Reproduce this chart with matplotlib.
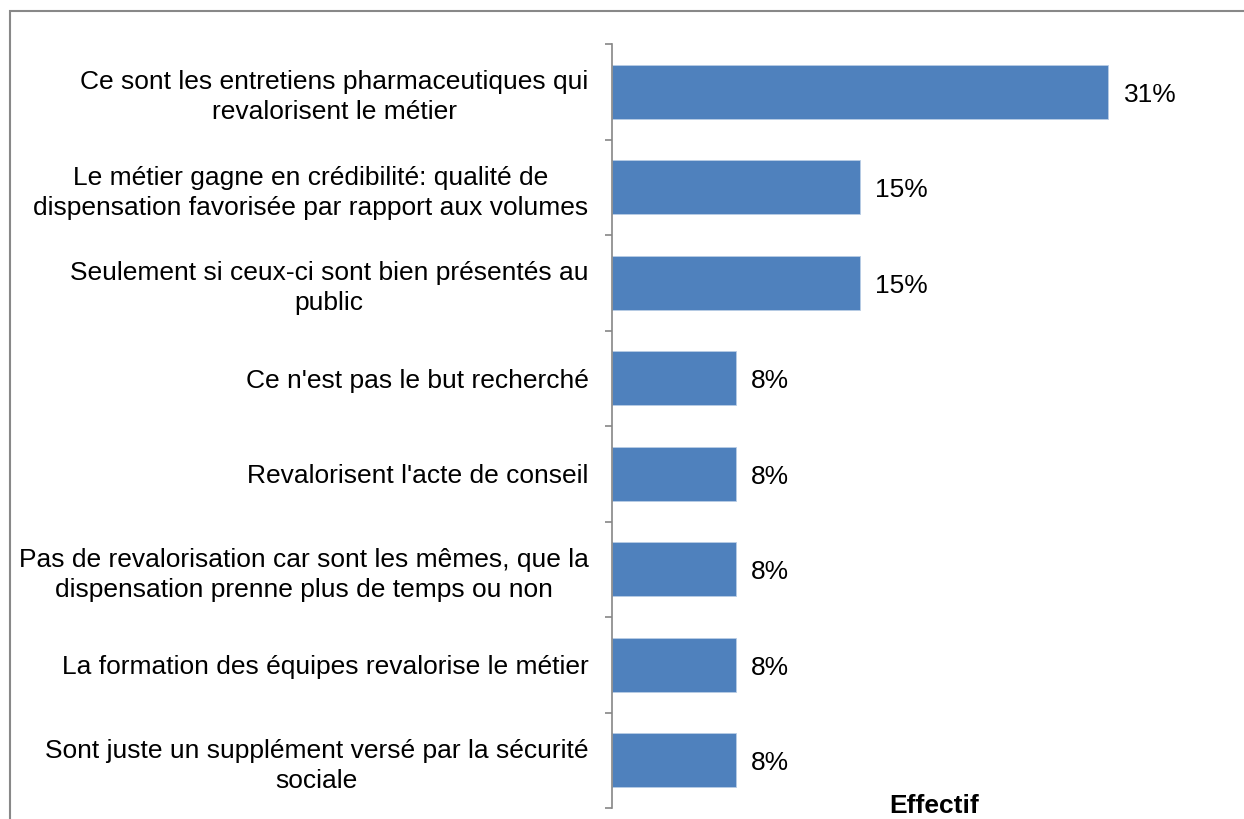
import matplotlib.pyplot as plt
from matplotlib.patches import Rectangle
from matplotlib.ticker import FixedLocator

plt.rcParams['font.family'] = ['Liberation Sans', 'DejaVu Sans']

categories = [
    "Ce sont les entretiens pharmaceutiques qui\nrevalorisent le métier",
    "Le métier gagne en crédibilité: qualité de\ndispensation favorisée par rapport aux volumes",
    "Seulement si ceux-ci sont bien présentés au\npublic",
    "Ce n'est pas le but recherché",
    "Revalorisent l'acte de conseil",
    "Pas de revalorisation car sont les mêmes, que la\ndispensation prenne plus de temps ou non",
    "La formation des équipes revalorise le métier",
    "Sont juste un supplément versé par la sécurité\nsociale",
]
values = [30.8, 15.4, 15.4, 7.7, 7.7, 7.7, 7.7, 7.7]

W, H = 1244, 819
fig = plt.figure(figsize=(W / 100, H / 100), dpi=100)

# axes: left edge at x=612 px, top 44 px, bottom 808 px
left, right, top, bottom = 612, 1244, 44, 808
ax = fig.add_axes([left / W, 1 - bottom / H, (right - left) / W, (bottom - top) / H])

pos = list(range(len(categories)))
ax.barh(pos, values, height=0.57, color='#4F81BD', edgecolor='#B9CDE5', linewidth=0.6)
ax.set_ylim(len(categories) - 0.5, -0.5)
ax.set_xlim(0, (right - left) / 16.12)

for p, v in zip(pos, values):
    ax.text(v + 15 / 16.12, p + 0.03, f"{v:.0f}%", va='center', ha='left', fontsize=19, color='black')

ax.set_yticks(pos)
ax.set_yticklabels(categories, fontsize=19)
for lbl in ax.get_yticklabels():
    lbl.set_multialignment('center')
    lbl.set_linespacing(1.32)
ax.yaxis.set_minor_locator(FixedLocator([p - 0.5 for p in range(len(categories) + 1)]))
ax.tick_params(axis='y', which='major', length=0, pad=17)
ax.tick_params(axis='y', which='minor', length=5, width=1.2, color='#868686')
ax.set_xticks([])

for s in ['top', 'right', 'bottom']:
    ax.spines[s].set_visible(False)
ax.spines['left'].set_color('#868686')
ax.spines['left'].set_linewidth(1.2)

fig.text(934 / W, 1 - 794 / H, "Effectif", ha='center', va='top', fontsize=19, fontweight='bold')

# outer chart frame (runs off the right and bottom edges)
fig.patches.append(Rectangle((10 / W, -0.05), 1.1, 1 - 11 / H + 0.05, transform=fig.transFigure,
                             fill=False, edgecolor='#888888', linewidth=1.5))

fig.savefig('out.png', dpi=100)
